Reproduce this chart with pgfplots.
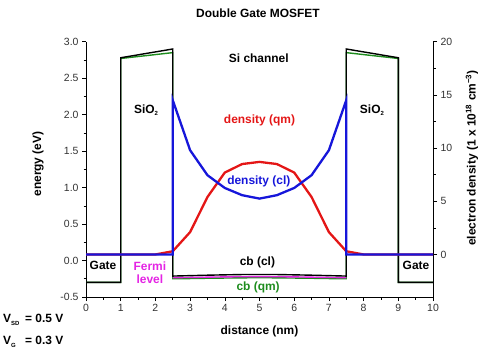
\documentclass[border=0pt]{standalone}
\usepackage{pgfplots}
\pgfplotsset{compat=1.18}
\usepackage{fontspec}
\setmainfont{Liberation Sans}
\definecolor{myred}{RGB}{228,22,22}
\definecolor{myblue}{RGB}{22,22,218}
\definecolor{mygreen}{RGB}{30,140,30}
\definecolor{mymag}{RGB}{228,36,228}
\definecolor{tickgray}{RGB}{50,50,50}
\newcommand{\sub}[1]{\raisebox{-2.5bp}{\fontsize{6}{6}\selectfont #1}}
\begin{document}
\begin{tikzpicture}[x=1bp,y=1bp]
\useasboundingbox (0,0) rectangle (496,355);
\pgfplotsset{
  common/.style={
    at={(86bp,58bp)}, anchor=south west, scale only axis,
    width=347bp, height=255.3bp,
    xmin=0, xmax=10,
    tick align=outside, major tick length=4bp, minor tick length=2.5bp,
    tick style={black, line width=0.6pt},
    axis line style={black, line width=0.8pt},
    ticklabel style={font=\fontsize{10.5}{12}\selectfont, text=tickgray},
    /pgf/number format/assume math mode=true,
    clip=false,
  }
}
\begin{axis}[common,
  ymin=-0.5, ymax=3,
  axis x line*=bottom, axis y line*=left,
  xtick={0,...,10}, minor x tick num=1,
  ytick={-0.5,0,0.5,1,1.5,2,2.5,3}, minor y tick num=1,
  yticklabel style={/pgf/number format/.cd, fixed, fixed zerofill, precision=1},
]
% cb (qm) and barrier (qm)
\addplot[mygreen, line width=1.4bp] coordinates {
 (0,-0.3) (1,-0.3) (1,2.77) (2.5,2.85) (2.5,-0.25) (3,-0.247) (3.5,-0.243) (4,-0.24) (4.5,-0.237) (5,-0.236) (5.5,-0.237) (6,-0.24) (6.5,-0.243) (7,-0.247) (7.5,-0.25) (7.5,2.85) (9,2.77) (9,-0.3) (10,-0.3)};
% magenta
\addplot[mymag, line width=1.4bp] coordinates {
 (2.5,-0.235) (3,-0.232) (3.5,-0.228) (4,-0.224) (4.5,-0.222) (5,-0.221) (5.5,-0.222) (6,-0.224) (6.5,-0.228) (7,-0.232) (7.5,-0.235)};
% cb (cl) and barrier
\addplot[black, line width=1.4bp] coordinates {
 (0,-0.3) (1,-0.3) (1,2.78) (2.5,2.9) (2.5,-0.213) (3,-0.207) (3.5,-0.201) (4,-0.196) (4.5,-0.192) (5,-0.191) (5.5,-0.192) (6,-0.196) (6.5,-0.201) (7,-0.207) (7.5,-0.213) (7.5,2.9) (9,2.78) (9,-0.3) (10,-0.3)};
\def\bigf{\fontsize{12}{14}\selectfont\bfseries}
\node[font=\bigf] at (axis cs:4.98,2.77) {Si channel};
\node[font=\bigf] at (axis cs:1.73,2.06) {SiO\sub{2}};
\node[font=\bigf] at (axis cs:8.24,2.06) {SiO\sub{2}};
\node[font=\bigf, text=myred] at (axis cs:5.0,1.92) {density (qm)};
\node[font=\bigf, text=myblue] at (axis cs:4.98,1.09) {density (cl)};
\node[font=\bigf] at (axis cs:4.94,-0.02) {cb (cl)};
\node[font=\bigf, text=mygreen] at (axis cs:4.96,-0.37) {cb (qm)};
\node[font=\bigf] at (axis cs:0.49,-0.07) {Gate};
\node[font=\bigf] at (axis cs:9.51,-0.07) {Gate};
\node[font=\bigf, text=mymag, align=center, inner sep=0pt] at (axis cs:1.84,-0.17) {Fermi\\[-1.5bp]level};
\end{axis}
\begin{axis}[common,
  ymin=-4, ymax=20,
  hide x axis, axis y line*=right,
  ytick={0,5,10,15,20}, minor y tick num=1,
]
\addplot[myred, line width=2.3bp] coordinates {
 (0,0) (2,0) (2.5,0.3) (3,2.1) (3.5,5.4) (4,7.7) (4.5,8.5) (5,8.7) (5.5,8.5) (6,7.7) (6.5,5.4) (7,2.1) (7.5,0.3) (8,0) (10,0)};
\addplot[myblue, line width=2.3bp] coordinates {
 (0,0) (2.5,0) (2.5,14.5) (3,9.8) (3.5,7.45) (4,6.25) (4.5,5.57) (5,5.25) (5.5,5.57) (6,6.25) (6.5,7.45) (7,9.8) (7.5,14.5) (7.5,0) (10,0)};
\end{axis}
\def\labf{\fontsize{12}{14}\selectfont\bfseries}
\node[font=\labf] at (258,342) {Double Gate MOSFET};
\node[font=\labf] at (259.5,24) {distance (nm)};
\node[font=\labf, rotate=90] at (38,191) {energy (eV)};
\node[font=\labf, rotate=90] at (472,197) {electron density (1 x 10\textsuperscript{18} cm\textsuperscript{−3})};
\node[font=\labf, anchor=west, inner sep=0pt] at (3,35) {\makebox[22bp][l]{V\sub{SD}}= 0.5 V};
\node[font=\labf, anchor=west, inner sep=0pt] at (3,13) {\makebox[22bp][l]{V\sub{G}}= 0.3 V};
\end{tikzpicture}
\end{document}
